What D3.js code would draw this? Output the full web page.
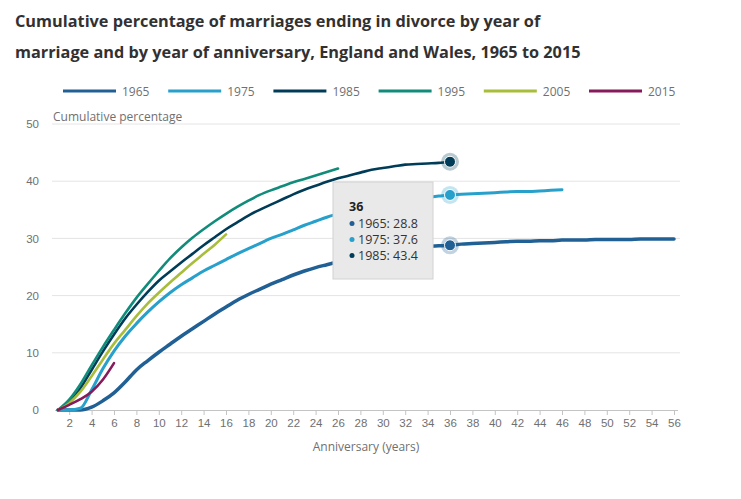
<!DOCTYPE html>
<html>
<head>
<meta charset="utf-8">
<script src="https://cdn.jsdelivr.net/npm/d3@7"></script>
<style>
	body { margin: 0; background: #fff; font-family: "Open Sans", sans-serif; }
	.title { font-weight: bold; font-size: 16.3px; fill: #323132; }
	.axis text { font-size: 11.5px; fill: #707070; }
</style>
</head>
<body>
<div class="container"></div>
<script>

var years = ["1965", "1975", "1985", "1995", "2005", "2015"];
var colors = ["#206095", "#27a0cc", "#003c57", "#118c7b", "#a8bd3a", "#871a5b"];

// cumulative % by anniversary, first value is anniversary 1
var v1965 = [0, 0, 0, 0.5, 1.6, 3.0, 4.9, 7.0, 8.6, 10.1, 11.5, 12.9, 14.2, 15.5, 16.8, 18.0, 19.2, 20.2, 21.1, 22.0,
			 22.8, 23.6, 24.3, 24.9, 25.4, 25.9, 26.4, 26.9, 27.3, 27.6, 27.9, 28.2, 28.4, 28.6, 28.7, 28.8, 29.0, 29.1, 29.2, 29.3,
			 29.4, 29.5, 29.5, 29.6, 29.6, 29.7, 29.7, 29.7, 29.8, 29.8, 29.8, 29.8, 29.9, 29.9, 29.9, 29.9];
var v1975 = [0, 0, 0.3, 3.5, 7.2, 10.3, 12.9, 15.1, 17.1, 18.9, 20.5, 21.9, 23.1, 24.3, 25.3, 26.3, 27.3, 28.2, 29.1, 30.0,
			 30.7, 31.5, 32.3, 33.0, 33.7, 34.3, 34.9, 35.4, 35.8, 36.2, 36.5, 36.8, 37.0, 37.2, 37.4, 37.6, 37.7, 37.8, 37.9, 38.0,
			 38.1, 38.2, 38.2, 38.3, 38.4, 38.5];
var v1985 = [0, 1.3, 3.8, 7.0, 10.2, 13.2, 16.0, 18.4, 20.6, 22.6, 24.2, 25.8, 27.3, 28.8, 30.2, 31.6, 32.8, 34.0, 35.0, 35.9,
			 36.8, 37.7, 38.5, 39.2, 39.9, 40.5, 41.0, 41.5, 42.0, 42.3, 42.6, 42.9, 43.0, 43.1, 43.2, 43.4];
var v1995 = [0, 1.8, 4.5, 7.8, 11.0, 14.0, 16.9, 19.6, 22.0, 24.3, 26.5, 28.4, 30.1, 31.6, 33.0, 34.3, 35.5, 36.6, 37.6, 38.4,
			 39.1, 39.8, 40.4, 41.0, 41.6, 42.2];
var v2005 = [0, 1.2, 3.2, 5.9, 8.8, 11.6, 14.0, 16.4, 18.6, 20.5, 22.3, 24.0, 25.7, 27.3, 28.9, 30.7];
var v2015 = [0, 0.9, 1.9, 3.2, 5.3, 8.2];

var series = [v1965, v1975, v1985, v1995, v2005, v2015];
var widths = [3.5, 3, 2.6, 2.6, 2.6, 2.6];

var xTicks = [2, 4, 6, 8, 10, 12, 14, 16, 18, 20, 22, 24, 26, 28, 30, 32, 34, 36, 38, 40, 42, 44, 46, 48, 50, 52, 54, 56];
var yTicks = [0, 10, 20, 30, 40, 50];

var hoverAnniv = 36;
var hoverSeries = [0, 1, 2]; // series shown in the tooltip

function makeStage(w, h) {
	var stage = d3.select(".container")
				  .insert("svg")
				  .attr("width", w)
				  .attr("height", h)
				  .style("display", "block");
	return stage;
}

var stage = makeStage(741, 499);

// title
stage.append("text").attr("class", "title").attr("x", 15).attr("y", 27)
	 .text("Cumulative percentage of marriages ending in divorce by year of");
stage.append("text").attr("class", "title").attr("x", 15).attr("y", 58)
	 .text("marriage and by year of anniversary, England and Wales, 1965 to 2015");

// legend
var legend = stage.selectAll(".legend")
				  .data(years)
				  .enter().append("g")
				  .attr("class", "legend")
				  .attr("transform", function (d, i) { return "translate(" + (63 + i * 105.2) + ",91)"; });
legend.append("line")
	  .attr("x1", 0).attr("x2", 53)
	  .style("stroke", function (d, i) { return colors[i]; })
	  .style("stroke-width", "3px");
legend.append("text")
	  .attr("x", 59).attr("y", 4.5)
	  .style("font-size", "12px")
	  .style("fill", "#707070")
	  .text(function (d) { return d; });

var x = d3.scaleLinear().domain([1, 56]).range([58, 674]);
var y = d3.scaleLinear().domain([0, 50]).range([410, 124]);

// gridlines
stage.append("g")
	 .selectAll("line")
	 .data(yTicks.slice(1))
	 .enter().append("line")
	 .attr("x1", 52).attr("x2", 680)
	 .attr("y1", function (d) { return y(d); })
	 .attr("y2", function (d) { return y(d); })
	 .style("stroke", "#e4e4e4")
	 .style("stroke-width", "1px");

// y labels
var yAxis = stage.append("g")
				 .attr("class", "axis")
				 .attr("transform", "translate(44,0)")
				 .call(d3.axisLeft(y).tickValues(yTicks).tickSize(0).tickPadding(5));
yAxis.select(".domain").remove();

stage.append("text")
	 .attr("x", 53).attr("y", 121)
	 .style("font-size", "12px")
	 .style("fill", "#707070")
	 .text("Cumulative percentage");

// x axis
var xAxis = stage.append("g")
				 .attr("class", "axis")
				 .attr("transform", "translate(0,410)")
				 .call(d3.axisBottom(x).tickValues(xTicks).tickSize(5).tickPadding(4).tickSizeOuter(0));
xAxis.select(".domain").attr("d", "M55,0.5H678").style("stroke", "#c4c4c4");
xAxis.selectAll(".tick line").style("stroke", "#c4c4c4");

stage.append("text")
	 .attr("x", 366).attr("y", 451)
	 .attr("text-anchor", "middle")
	 .style("font-size", "12px")
	 .style("fill", "#707070")
	 .text("Anniversary (years)");

// lines
var line = d3.line()
			 .x(function (d, i) { return x(i + 1); })
			 .y(function (d) { return y(d); })
			 .curve(d3.curveMonotoneX);

stage.append("g")
	 .selectAll("path")
	 .data(series)
	 .enter().append("path")
	 .attr("d", line)
	 .style("fill", "none")
	 .style("stroke", function (d, i) { return colors[i]; })
	 .style("stroke-width", function (d, i) { return widths[i] + "px"; })
	 .style("stroke-linecap", "round");

// hover markers
var markers = stage.append("g")
				   .selectAll("g")
				   .data(hoverSeries)
				   .enter().append("g")
				   .attr("transform", function (s) {
					   return "translate(" + x(hoverAnniv) + "," + y(series[s][hoverAnniv - 1]) + ")";
				   });
markers.append("circle")
	   .attr("r", 9)
	   .style("fill", function (s) { return colors[s]; })
	   .style("opacity", 0.28);
markers.append("circle")
	   .attr("r", 5.5)
	   .style("fill", function (s) { return colors[s]; })
	   .style("stroke", "#fff")
	   .style("stroke-width", "1px");

// tooltip
var tip = stage.append("g").attr("transform", "translate(333,182)");
tip.append("rect")
   .attr("width", 100).attr("height", 97)
   .style("fill", "#e9e9e9")
   .style("stroke", "#d2d2d2")
   .style("stroke-width", "1px");
tip.append("text")
   .attr("x", 16).attr("y", 29)
   .style("font-size", "12.5px")
   .style("font-weight", "bold")
   .style("fill", "#222")
   .text(hoverAnniv);
var rows = tip.selectAll(".row")
			  .data(hoverSeries)
			  .enter().append("g")
			  .attr("class", "row")
			  .attr("transform", function (s, i) { return "translate(0," + (41.5 + i * 16) + ")"; });
rows.append("circle")
	.attr("cx", 19).attr("cy", 0).attr("r", 2.5)
	.style("fill", function (s) { return colors[s]; });
rows.append("text")
	.attr("x", 25).attr("y", 4.5)
	.style("font-size", "12.5px")
	.style("fill", "#333")
	.text(function (s) { return years[s] + ": " + series[s][hoverAnniv - 1]; });

</script>
</body>
</html>
